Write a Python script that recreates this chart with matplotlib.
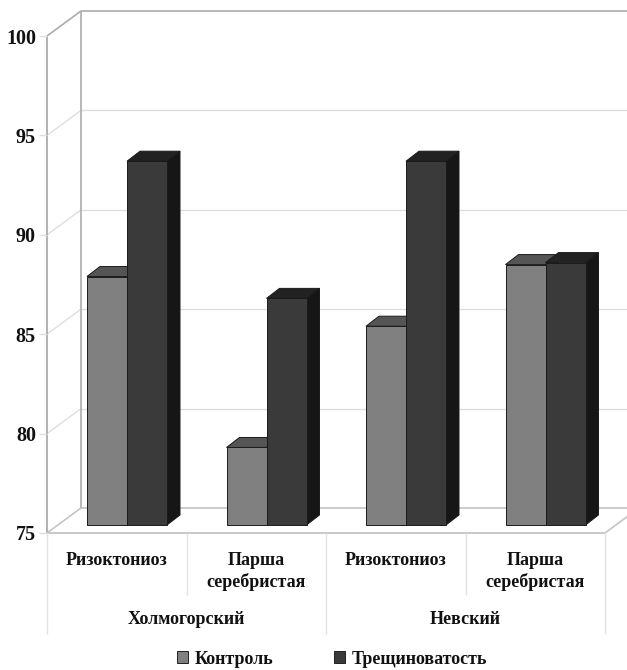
import matplotlib
matplotlib.use("Agg")
import matplotlib.pyplot as plt
from matplotlib.patches import Polygon, Patch

plt.rcParams['font.family'] = ['Liberation Serif', 'DejaVu Serif']
plt.rcParams['font.weight'] = 'bold'

groups = ['Холмогорский', 'Невский']
categories = ['Ризоктониоз', 'Парша\nсеребристая', 'Ризоктониоз', 'Парша\nсеребристая']
series_names = ['Контроль', 'Трещиноватость']
control = [87.5, 78.9, 85.0, 88.1]
cracking = [93.3, 86.4, 93.3, 88.2]
yticks = [75, 80, 85, 90, 95, 100]

W, H = 627, 670
L, R, B, T = 47, 605, 533, 36
fig = plt.figure(figsize=(W / 100, H / 100), dpi=100, facecolor='white')
ax = fig.add_axes([L / W, 1 - B / H, (R - L) / W, (B - T) / H])
ax.set_xlim(0, 4)
ax.set_ylim(75, 100)
ax.patch.set_visible(False)
for s in ax.spines.values():
    s.set_visible(False)

ux = (R - L) / 4      # px per category
uy = (B - T) / 25     # px per value unit
wall_dx = 34 / ux
wall_dy = 25 / uy
xmax = (W - L) / ux
GRID, LIGHT, AXIS = '#dedede', '#e2e2e2', '#ababab'


def line(xs, ys, color, lw=1.0, z=1):
    ax.plot(xs, ys, color=color, lw=lw, clip_on=False, zorder=z, solid_capstyle='butt')


# back-wall gridlines and their diagonals on the side wall
for v in yticks[1:-1]:
    line([wall_dx, xmax], [v + wall_dy] * 2, GRID)
    line([0, wall_dx], [v, v + wall_dy], GRID)
# walls and floor
line([wall_dx, xmax], [100 + wall_dy] * 2, AXIS, 1.2)
line([0, wall_dx], [100, 100 + wall_dy], AXIS, 1.2)
line([wall_dx, wall_dx], [75 + wall_dy, 100 + wall_dy], AXIS, 1.2)
line([0, 0], [75, 100], AXIS, 1.3)
line([wall_dx, xmax], [75 + wall_dy] * 2, '#c4c4c4', 1.2)
line([0, wall_dx], [75, 75 + wall_dy], '#c4c4c4', 1.2)
line([0, 4], [75, 75], '#c4c4c4', 1.3)
line([4, xmax], [75, 75 + wall_dy * (xmax - 4) / wall_dx], '#c4c4c4', 1.2)

# 3-D bars
bar_w = 40 / ux
start = 40 / ux
depth_x, depth_y = 13 / ux, 10 / uy
base_shift = 8 / uy
STY = {
    0: ('#808080', '#555555', '#404040'),
    1: ('#3a3a3a', '#222222', '#161616'),
}


def bar3d(x0, value, sty):
    front, top, side = STY[sty]
    b, t = 75 + base_shift, value + base_shift
    x1 = x0 + bar_w
    kw = dict(closed=True, edgecolor='#1a1a1a', lw=0.7, clip_on=False, zorder=3)
    ax.add_patch(Polygon([(x1, b), (x1 + depth_x, b + depth_y),
                          (x1 + depth_x, t + depth_y), (x1, t)], facecolor=side, **kw))
    ax.add_patch(Polygon([(x0, t), (x1, t), (x1 + depth_x, t + depth_y),
                          (x0 + depth_x, t + depth_y)], facecolor=top, **kw))
    ax.add_patch(Polygon([(x0, b), (x1, b), (x1, t), (x0, t)], facecolor=front, **kw))


for i in range(4):
    bar3d(i + start, control[i], 0)
    bar3d(i + start + bar_w, cracking[i], 1)

# axis ticks
ax.set_yticks(yticks)
ax.set_yticklabels([str(v) for v in yticks], fontsize=14.5, fontweight='bold', color='#111111')
ax.tick_params(axis='y', length=6, color=GRID, width=1.0, pad=2)
ax.set_xticks([i + 0.5 for i in range(4)])
ax.set_xticklabels(categories, fontsize=13, fontweight='bold', color='#111111', linespacing=1.25)
ax.tick_params(axis='x', length=0, pad=14)
for lab in ax.get_xticklabels():
    lab.set_verticalalignment('top')

# multi-level category separators
lvl1 = 75 - 62 / uy
lvl2 = 75 - 101 / uy
for x in (1, 3):
    line([x, x], [75, lvl1], LIGHT, 1.0)
for x in (0, 2, 4):
    line([x, x], [75, lvl2], LIGHT, 1.0)
for i, g in enumerate(groups):
    ax.text(2 * i + 1, 75 - 87 / uy, g, ha='center', va='center', fontsize=13,
            fontweight='bold', color='#111111', clip_on=False)

handles = [Patch(facecolor='#808080', edgecolor='#222222', lw=0.7),
           Patch(facecolor='#3a3a3a', edgecolor='#222222', lw=0.7)]
fig.legend(handles, series_names, loc='center', bbox_to_anchor=(332 / W, 1 - 659 / H), ncol=2,
           frameon=False, fontsize=13, handlelength=0.6, handleheight=0.6,
           handletextpad=0.35, columnspacing=3.4, labelcolor='#111111',
           borderpad=0, borderaxespad=0)

fig.savefig('out.png', dpi=100)
